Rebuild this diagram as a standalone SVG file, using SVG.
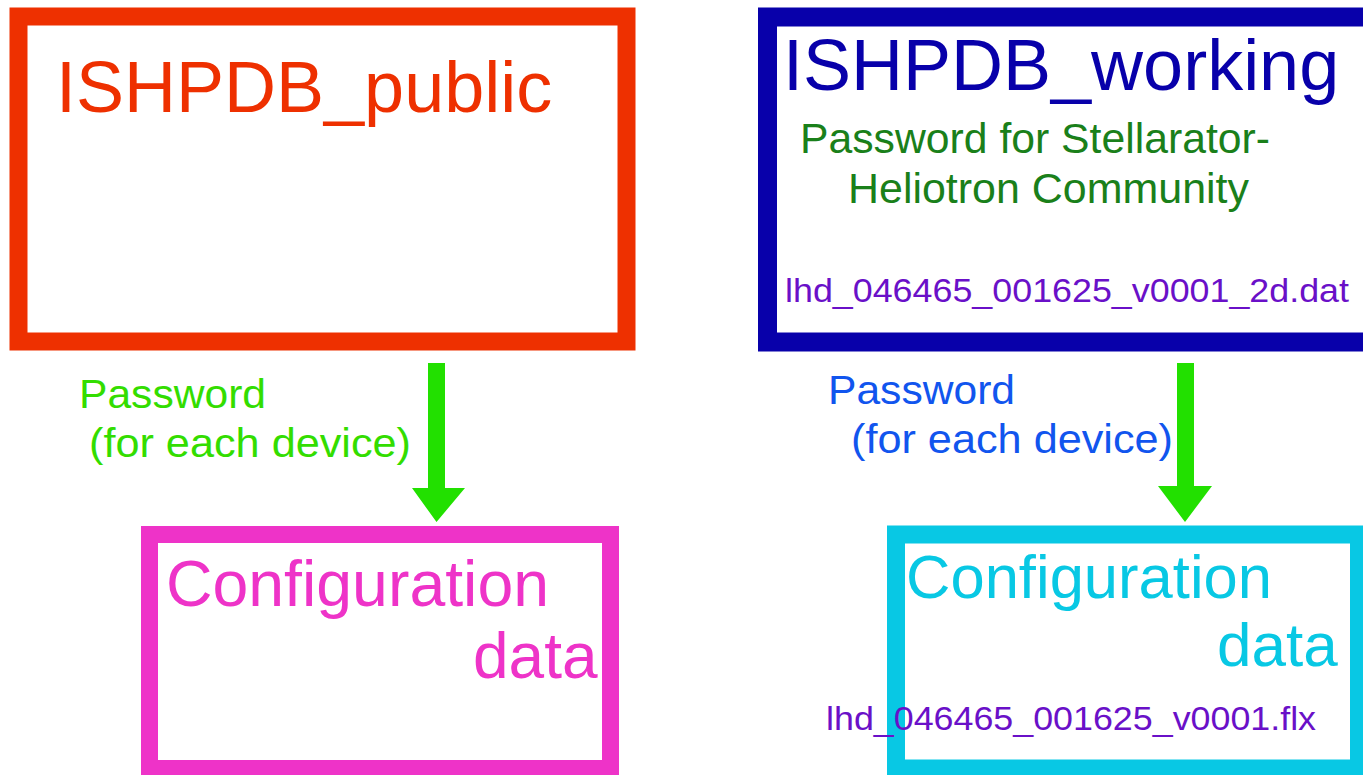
<svg xmlns="http://www.w3.org/2000/svg" width="1363" height="775" viewBox="0 0 1363 775">
  <style>
    text { font-family: "Liberation Sans", Arial, sans-serif; }
    .box { fill: #ffffff; }
    .arrow { fill: #22e000; }
  </style>
  <rect x="0" y="0" width="1363" height="775" fill="#ffffff"/>

  <!-- public database -->
  <g id="ishpdb-public">
    <rect class="box" x="18.5" y="16.5" width="608" height="325" stroke="#ee3000" stroke-width="18"/>
    <text x="56" y="112" font-size="72" fill="#ee3000">ISHPDB_public</text>
  </g>

  <!-- working database -->
  <g id="ishpdb-working">
    <rect class="box" x="767.5" y="17" width="610" height="325" stroke="#0800aa" stroke-width="19"/>
    <text x="783" y="90" font-size="72" fill="#0800aa">ISHPDB_working</text>
    <text x="800" y="153" font-size="42" fill="#1a801a" textLength="470" lengthAdjust="spacingAndGlyphs">Password for Stellarator-</text>
    <text x="848" y="203" font-size="42" fill="#1a801a" textLength="401" lengthAdjust="spacingAndGlyphs">Heliotron Community</text>
    <text x="785" y="302" font-size="34" fill="#6a10c8" textLength="564" lengthAdjust="spacingAndGlyphs">lhd_046465_001625_v0001_2d.dat</text>
  </g>

  <!-- configuration data (public) -->
  <g id="config-public">
    <rect class="box" x="149.5" y="534.5" width="461" height="234" stroke="#ee33c8" stroke-width="17"/>
    <text x="166" y="606" font-size="64" fill="#ee33c8" textLength="383" lengthAdjust="spacingAndGlyphs">Configuration</text>
    <text x="473" y="678" font-size="64" fill="#ee33c8">data</text>
  </g>

  <!-- configuration data (working) -->
  <g id="config-working">
    <rect class="box" x="896" y="534.5" width="463" height="234" stroke="#08c8e4" stroke-width="18"/>
    <text x="906" y="598" font-size="62" fill="#08c8e4" textLength="366" lengthAdjust="spacingAndGlyphs">Configuration</text>
    <text x="1217" y="666" font-size="62" fill="#08c8e4">data</text>
    <text x="826" y="730" font-size="34" fill="#6a10c8" textLength="490" lengthAdjust="spacingAndGlyphs">lhd_046465_001625_v0001.flx</text>
  </g>

  <!-- connectors -->
  <g id="connectors">
    <polygon class="arrow" points="428,363 445,363 445,488 465,488 436.5,522 412,488 428,488"/>
    <polygon class="arrow" points="1177,363 1194,363 1194,486 1212,486 1185,522 1158,486 1177,486"/>
    <text x="79" y="408" font-size="41" fill="#33dd00" textLength="187" lengthAdjust="spacingAndGlyphs">Password</text>
    <text x="89" y="457" font-size="41" fill="#33dd00" textLength="322" lengthAdjust="spacingAndGlyphs">(for each device)</text>
    <text x="828" y="404" font-size="41" fill="#1155ee" textLength="187" lengthAdjust="spacingAndGlyphs">Password</text>
    <text x="851" y="453" font-size="41" fill="#1155ee" textLength="322" lengthAdjust="spacingAndGlyphs">(for each device)</text>
  </g>
</svg>
